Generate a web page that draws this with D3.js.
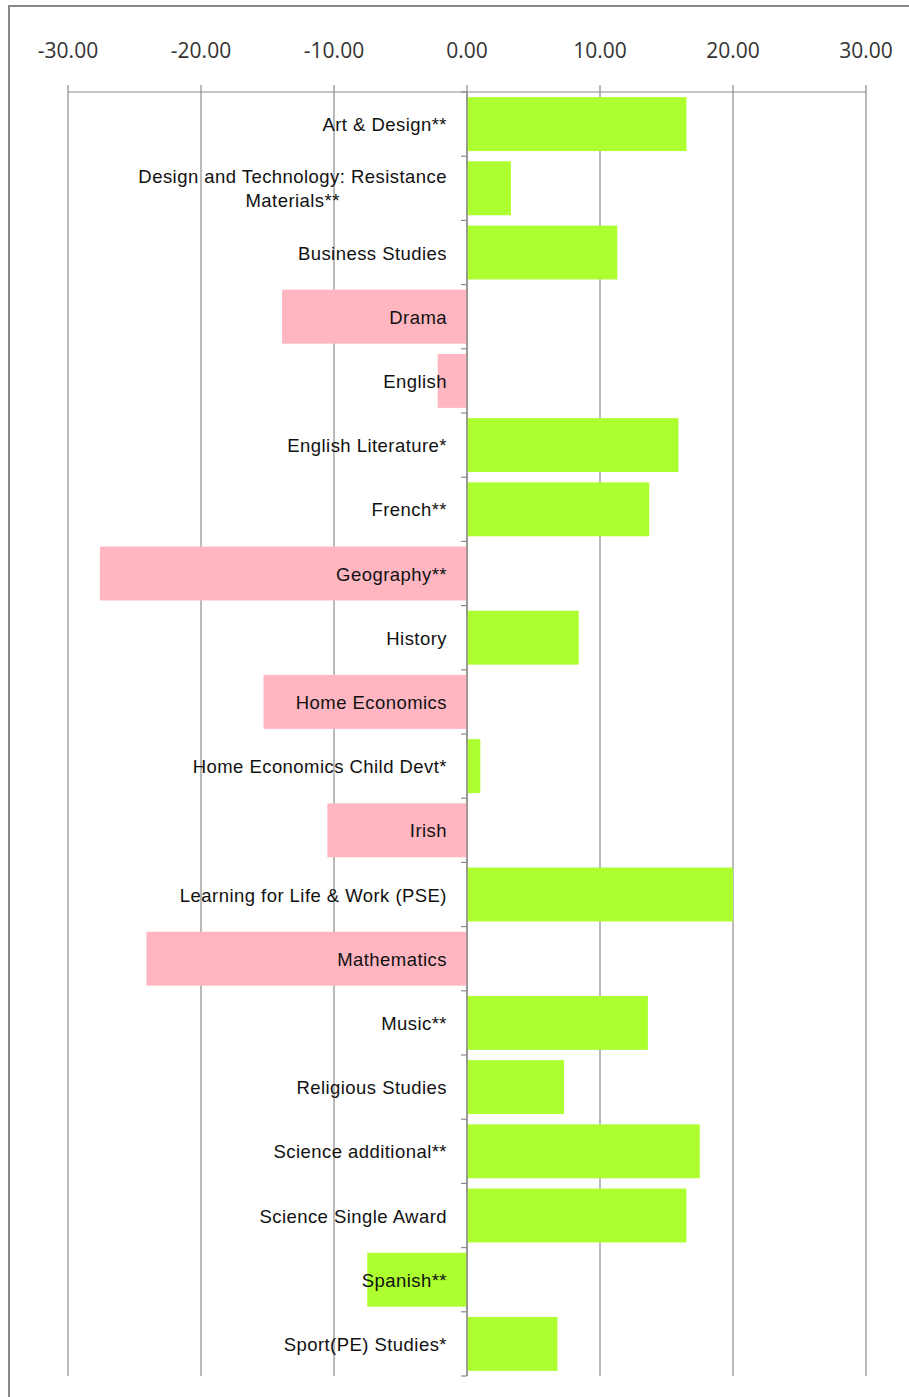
<!DOCTYPE html>
<html><head><meta charset="utf-8">
<script src="https://cdn.jsdelivr.net/npm/d3@7"></script>
<style>body{margin:0;background:#fff}svg{display:block}</style>
</head><body>
<script>
const categories = ["Art & Design**","Design and Technology: Resistance Materials**","Business Studies","Drama","English","English Literature*","French**","Geography**","History","Home Economics","Home Economics Child Devt*","Irish","Learning for Life & Work (PSE)","Mathematics","Music**","Religious Studies","Science additional**","Science Single Award","Spanish**","Sport(PE) Studies*"];
const values = [16.5,3.3,11.3,-13.9,-2.2,15.9,13.7,-27.6,8.4,-15.3,1.0,-10.5,20.0,-24.1,13.6,7.3,17.5,16.5,-7.5,6.8];
const barGroup = ["g","g","g","p","p","g","g","p","g","p","g","p","g","p","g","g","g","g","g","g"];
const tickValues = [-30,-20,-10,0,10,20,30];
const labelLines = {"Design and Technology: Resistance Materials**":["Design and Technology: Resistance","Materials**"]};

(function(){
const W=909,H=1397;
const svg=d3.select("body").append("svg").attr("width",W).attr("height",H);
svg.append("rect").attr("x",9).attr("y",6).attr("width",W+20).attr("height",H+20).attr("fill","#fff").attr("stroke","#888").attr("stroke-width",2);

const x=d3.scaleLinear().domain([-30,30]).range([68,866]);
const plotTop=92,plotBottom=1376;
const y=d3.scaleBand().domain(categories).range([plotTop,plotBottom]).paddingInner(0.16).paddingOuter(0.08);
const color={g:"#adff2f",p:"#ffb6c1"};

svg.append("g").selectAll("line").data(tickValues).join("line")
 .attr("x1",d=>x(d)).attr("x2",d=>x(d)).attr("y1",plotTop-7).attr("y2",plotBottom)
 .attr("stroke","#8c8c8c").attr("stroke-width",1.2);
svg.append("line").attr("x1",x(-30)).attr("x2",x(30)).attr("y1",plotTop).attr("y2",plotTop).attr("stroke","#8c8c8c").attr("stroke-width",1.2);
svg.append("g").selectAll("text").data(tickValues).join("text")
 .attr("x",d=>x(d)).attr("y",58).attr("text-anchor","middle")
 .attr("font-family","'Open Sans',sans-serif").attr("font-size",21).attr("fill","#333")
 .text(d=>d.toFixed(2));

svg.append("g").selectAll("rect").data(categories).join("rect")
 .attr("x",(d,i)=>x(Math.min(0,values[i])))
 .attr("width",(d,i)=>Math.abs(x(values[i])-x(0)))
 .attr("y",d=>y(d)).attr("height",y.bandwidth())
 .attr("fill",(d,i)=>color[barGroup[i]]);

svg.append("line").attr("x1",x(0)).attr("x2",x(0)).attr("y1",plotTop).attr("y2",plotBottom).attr("stroke","#8c8c8c").attr("stroke-width",1.5);
const bounds=d3.range(categories.length+1).map(i=>plotTop+i*(plotBottom-plotTop)/categories.length);
svg.append("g").selectAll("line").data(bounds).join("line")
 .attr("x1",x(0)-6).attr("x2",x(0)).attr("y1",d=>d).attr("y2",d=>d).attr("stroke","#8c8c8c").attr("stroke-width",1.2);

const lab=svg.append("g").attr("font-family","'Liberation Sans',Arial,sans-serif").attr("font-size",18.5).attr("letter-spacing",0.45).attr("fill","#111");
categories.forEach((c,i)=>{
  const lines=labelLines[c]||[c];
  const cy=y(c)+y.bandwidth()/2;
  const lh=24;
  const t=lab.append("text").attr("text-anchor","middle");
  const tsp=lines.map((l,j)=>t.append("tspan").attr("y",cy+(j-(lines.length-1)/2)*lh+7).text(l));
  const widths=tsp.map(s=>s.node().getComputedTextLength());
  const mw=d3.max(widths);
  tsp.forEach(s=>s.attr("x",447-mw/2));
});
})();
</script>
</body></html>
